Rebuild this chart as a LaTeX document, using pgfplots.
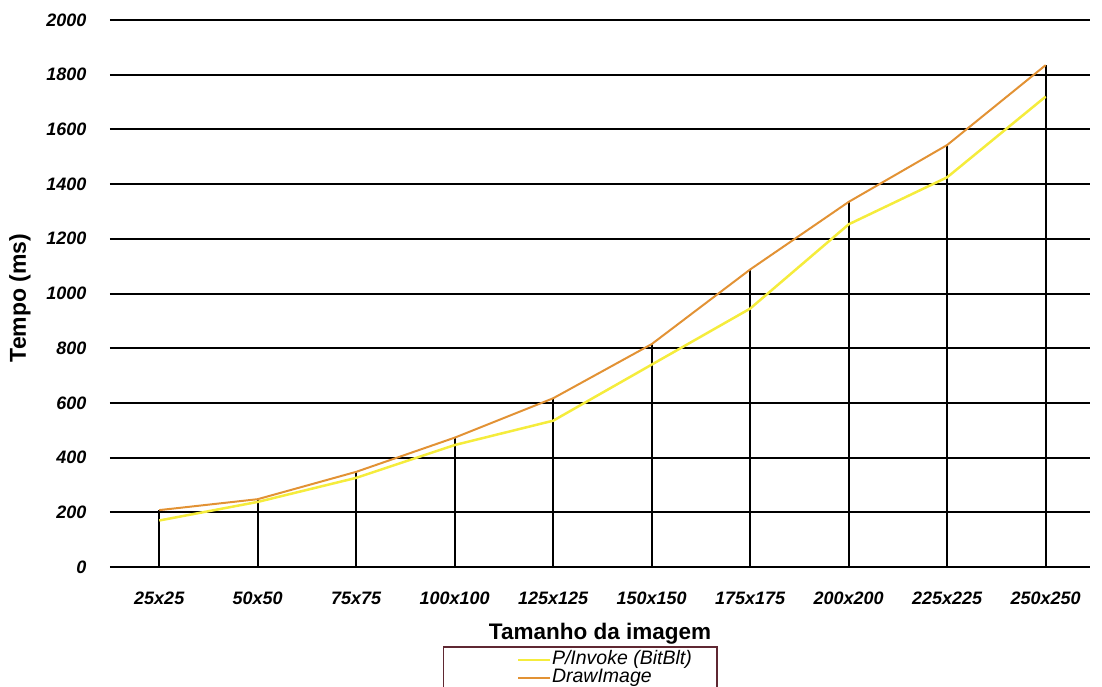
\documentclass[border=0pt]{standalone}
\usepackage{fontspec}
\setmainfont{Liberation Sans}
\usepackage{pgfplots}
\pgfplotsset{compat=1.18}
\definecolor{pyellow}{RGB}{245,236,60}
\definecolor{porange}{RGB}{226,146,52}
\definecolor{lborder}{RGB}{95,40,50}
\begin{document}
\begin{tikzpicture}
\path[use as bounding box] (-110pt,-119pt) rectangle (992pt,567pt);
\begin{axis}[
  at={(0,0)}, anchor=south west,
  scale only axis, width=980pt, height=547pt,
  xmin=-0.5, xmax=9.45, ymin=0, ymax=2000,
  axis line style={draw=none},
  major tick length=0pt,
  ytick={0,200,...,2000},
  yticklabels={0,200,400,600,800,1000,1200,1400,1600,1800,2000},
  xtick={0,1,2,3,4,5,6,7,8,9},
  xticklabels={25x25,50x50,75x75,100x100,125x125,150x150,175x175,200x200,225x225,250x250},
  ymajorgrids,
  grid style={black, line width=2pt},
  ticklabel style={font=\fontsize{18}{20}\selectfont\bfseries\itshape},
  yticklabel style={anchor=east, xshift=-20pt},
  xticklabel style={anchor=center, yshift=-31pt},
  xlabel={Tamanho da imagem},
  ylabel={Tempo (ms)},
  xlabel style={font=\fontsize{22.5}{24}\selectfont\bfseries, at={(axis description cs:0.5,-0.1225)}, anchor=center},
  ylabel style={font=\fontsize{23}{24}\selectfont\bfseries, at={(axis description cs:-0.0918,0.492)}, anchor=center},
  legend style={at={(axis description cs:0.48,-0.145)}, anchor=north, draw=lborder, line width=1.3pt,
    inner xsep=0pt, inner ysep=4pt, font=\fontsize{19.5}{18}\selectfont\itshape,
    nodes={inner sep=1pt, text height=12.5pt, text depth=3.5pt}, row sep=0pt},
  legend cell align=left,
  legend image code/.code={\draw[#1, line width=2pt] (0pt,0pt) -- (32pt,0pt); \path (-73pt,0pt);},
]
\addplot[ycomb, black, line width=2pt, forget plot] coordinates {
(0,208) (1,248) (2,348) (3,473) (4,617) (5,815) (6,1088) (7,1335) (8,1543) (9,1835)};
\addplot[pyellow, line width=2.5pt] coordinates {
(0,170) (1,238) (2,326) (3,446) (4,535) (5,740) (6,945) (7,1253) (8,1425) (9,1720)};
\addlegendentry{\makebox[164pt][l]{P/Invoke (BitBlt)}}
\addplot[porange, line width=2pt] coordinates {
(0,208) (1,248) (2,348) (3,473) (4,617) (5,815) (6,1088) (7,1335) (8,1543) (9,1835)};
\addlegendentry{DrawImage}
\end{axis}
\end{tikzpicture}
\end{document}
